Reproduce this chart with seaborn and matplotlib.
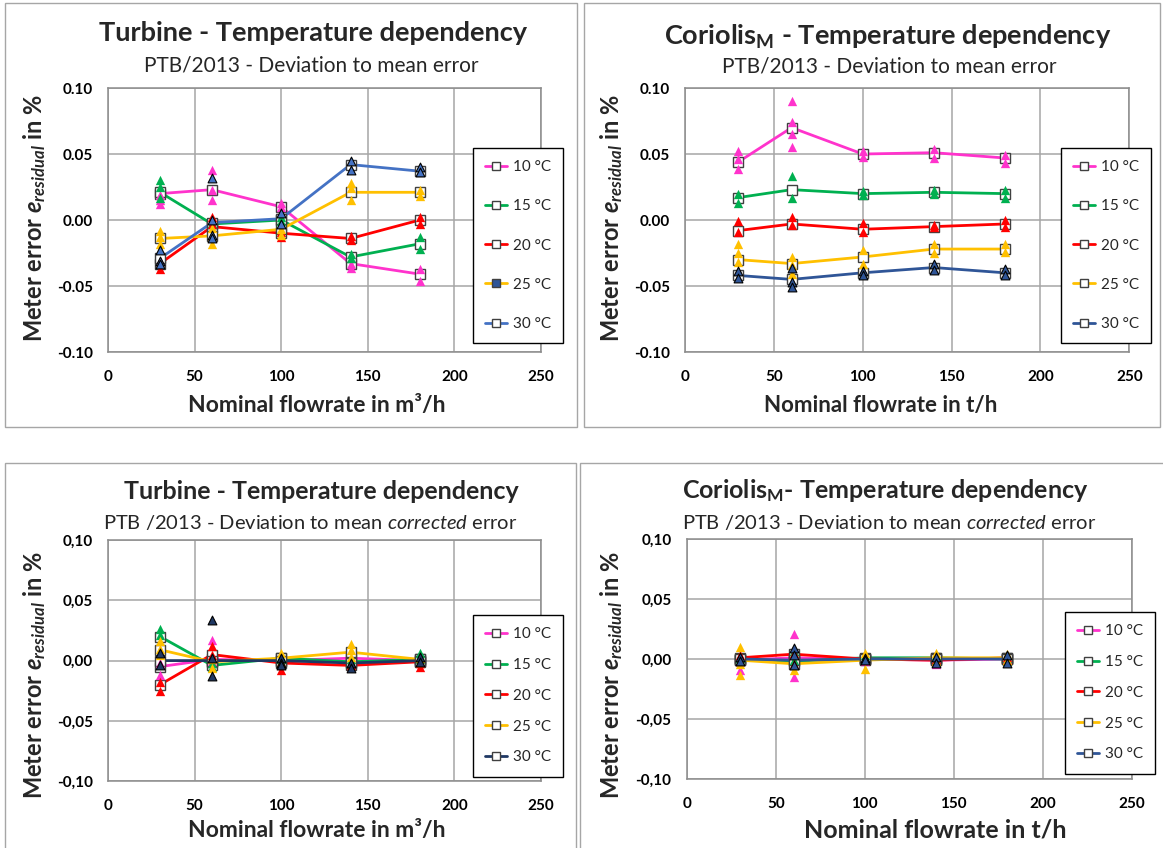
import numpy as np
import pandas as pd
import matplotlib
matplotlib.use('Agg')
import matplotlib.pyplot as plt
import seaborn as sns
from matplotlib.lines import Line2D
from matplotlib.patches import Rectangle
from matplotlib.ticker import FuncFormatter

# nominal flowrates and temperature groups
flow = [30, 60, 100, 140, 180]
temps = ['10 °C', '15 °C', '20 °C', '25 °C', '30 °C']

# Turbine - deviation to mean error (rows = temps, cols = flow)
turb_mean = [
    [0.020, 0.023, 0.010, -0.033, -0.041],
    [0.021, -0.003, 0.000, -0.028, -0.018],
    [-0.033, -0.005, -0.010, -0.014, 0.000],
    [-0.014, -0.012, -0.007, 0.021, 0.021],
    [-0.029, -0.002, 0.001, 0.042, 0.037],
]
turb_pts = [
    [[0.019, 0.015, 0.012], [0.038, 0.023, 0.015], [0.013, 0.010], [-0.033, -0.036], [-0.037, -0.046]],
    [[0.030, 0.025, 0.017], [-0.002, -0.003], [0.002, -0.001], [-0.026, -0.029], [-0.013, -0.022]],
    [[-0.031, -0.037], [0.002, -0.003], [-0.009, -0.013], [-0.012, -0.015], [0.002, -0.003]],
    [[-0.008, -0.013, -0.018], [-0.006, -0.013, -0.018], [-0.007, -0.011], [0.028, 0.024, 0.015], [0.023, 0.018]],
    [[-0.023, -0.031, -0.033], [0.032, 0.000, -0.011, -0.014], [0.005, -0.003], [0.045, 0.038], [0.040, 0.036]],
]

# Coriolis - deviation to mean error
cor_mean = [
    [0.044, 0.070, 0.050, 0.051, 0.047],
    [0.017, 0.023, 0.020, 0.021, 0.020],
    [-0.008, -0.003, -0.007, -0.005, -0.003],
    [-0.030, -0.033, -0.028, -0.022, -0.022],
    [-0.042, -0.045, -0.040, -0.036, -0.040],
]
cor_pts = [
    [[0.052, 0.046, 0.039], [0.090, 0.074, 0.065, 0.055], [0.052, 0.048], [0.054, 0.047], [0.049, 0.043]],
    [[0.020, 0.013], [0.033, 0.017], [0.022, 0.019], [0.023, 0.020], [0.023, 0.017]],
    [[-0.001, -0.009], [0.002, -0.004], [-0.002, -0.009], [-0.004, -0.005], [0.000, -0.005]],
    [[-0.018, -0.025, -0.032], [-0.028, -0.034, -0.041], [-0.023, -0.033], [-0.018, -0.025], [-0.018, -0.024]],
    [[-0.039, -0.044], [-0.036, -0.047, -0.051], [-0.039, -0.042], [-0.033, -0.038], [-0.037, -0.042]],
]

# Turbine - deviation to mean corrected error
turb_corr_mean = [
    [-0.005, 0.001, 0.000, 0.002, 0.000],
    [0.020, -0.004, 0.002, -0.001, 0.001],
    [-0.020, 0.005, -0.002, -0.004, -0.001],
    [0.009, -0.001, 0.002, 0.007, 0.001],
    [0.000, 0.000, 0.000, -0.002, 0.000],
]
turb_corr_pts = [
    [[-0.012, -0.002], [0.017, 0.000], [0.001, -0.001], [0.001, -0.002], [0.001, -0.001]],
    [[0.026, 0.021], [-0.002, -0.005], [0.003, 0.001], [0.001, -0.002], [0.006, 0.001]],
    [[-0.025, -0.018], [0.012, 0.005], [-0.004, -0.008], [-0.002, -0.004], [-0.002, -0.005]],
    [[0.016, 0.010, 0.005], [0.001, -0.006], [0.006, -0.001], [0.014, 0.009, 0.003], [0.002, -0.001]],
    [[0.006, -0.004], [0.034, 0.002, -0.013], [0.002, -0.002, -0.004], [-0.002, -0.006], [0.003, -0.001]],
]

# Coriolis - deviation to mean corrected error
cor_corr_mean = [
    [-0.001, 0.001, 0.000, -0.001, 0.000],
    [0.000, -0.002, 0.001, 0.001, 0.000],
    [0.001, 0.004, 0.000, -0.001, 0.001],
    [-0.001, -0.004, -0.001, 0.001, 0.001],
    [0.000, -0.001, 0.000, 0.000, 0.000],
]
cor_corr_pts = [
    [[-0.009, -0.002], [0.021, -0.015], [0.000, -0.002], [-0.004, 0.000], [-0.002, 0.000]],
    [[0.001, -0.001], [0.007, -0.001], [0.003, 0.000], [0.003, -0.001], [0.001, -0.002]],
    [[0.003, -0.002], [0.005, -0.004], [0.001, -0.001], [0.000, -0.002], [0.002, -0.001]],
    [[0.010, -0.013, -0.004], [-0.009, -0.005], [0.005, -0.008], [0.005, -0.002], [0.004, -0.001]],
    [[0.002, -0.002], [0.009, 0.003, -0.005], [0.001, -0.001], [0.002, -0.003], [0.003, -0.003]],
]

base_colors = ['#FF33CC', '#00B050', '#FF0000', '#FFC000']

sns.set_theme(style='white')
plt.rcParams['font.family'] = ['Lato', 'DejaVu Sans']
plt.rcParams['mathtext.fontset'] = 'custom'
plt.rcParams['mathtext.rm'] = 'Lato'
plt.rcParams['mathtext.it'] = 'Lato:italic'
plt.rcParams['mathtext.bf'] = 'Lato:bold'
if 'mathtext.bfit' in plt.rcParams:
    plt.rcParams['mathtext.bfit'] = 'Lato:italic:bold'
    ylab = r'Meter error $\mathbfit{e}_{\mathbfit{residual}}$ in %'
else:
    ylab = r'Meter error $\mathbf{e}_{\mathbf{residual}}$ in %'


def to_frames(means, pts):
    rm, rp = [], []
    for t, m_row, p_row in zip(temps, means, pts):
        for f, m, vals in zip(flow, m_row, p_row):
            rm.append((t, f, m))
            for v in vals:
                rp.append((t, f, v))
    return (pd.DataFrame(rm, columns=['temp', 'flow', 'err']),
            pd.DataFrame(rp, columns=['temp', 'flow', 'err']))


def draw_panel(ax, means, pts, c30, comma, legend_xy, spacing, filled25=False):
    colors = base_colors + [c30]
    dm, dp = to_frames(means, pts)
    for t, c in zip(temps, colors):
        sns.lineplot(data=dm[dm.temp == t], x='flow', y='err', color=c, lw=2,
                     marker='s', markersize=7, markerfacecolor='white',
                     markeredgecolor='#404040', markeredgewidth=1,
                     ax=ax, legend=False, zorder=2)
    for t, c in zip(temps, colors):
        if t == '30 °C':
            sns.scatterplot(data=dp[dp.temp == t], x='flow', y='err', marker='^',
                            color=c, edgecolor='black', linewidth=0.8, s=40,
                            ax=ax, legend=False, zorder=3)
        else:
            sns.scatterplot(data=dp[dp.temp == t], x='flow', y='err', marker='^',
                            color=c, linewidth=0, s=45, ax=ax, legend=False, zorder=3)
    ax.set_xlim(0, 250)
    ax.set_ylim(-0.1, 0.1)
    ax.set_xticks([0, 50, 100, 150, 200, 250])
    ax.set_yticks([-0.10, -0.05, 0.0, 0.05, 0.10])
    if comma:
        ax.yaxis.set_major_formatter(FuncFormatter(lambda v, p: f'{v:.2f}'.replace('.', ',').replace('-0,00', '0,00')))
    else:
        ax.yaxis.set_major_formatter(FuncFormatter(lambda v, p: f'{v:.2f}'.replace('-0.00', '0.00')))
    ax.set_xlabel('')
    ax.set_ylabel('')
    ax.grid(True, color='#A6A6A6', lw=1.1)
    ax.set_axisbelow(True)
    for s in ax.spines.values():
        s.set_color('#8C8C8C')
        s.set_linewidth(1.1)
    ax.tick_params(direction='out', length=5, width=1, color='#8C8C8C',
                   labelsize=11, labelcolor='black')
    ax.tick_params(axis='x', pad=8)
    ax.tick_params(axis='y', pad=6)
    plt.setp(ax.get_xticklabels(), fontweight='bold')
    plt.setp(ax.get_yticklabels(), fontweight='bold')

    handles = []
    for t, c in zip(temps, colors):
        fc = '#2F5597' if (filled25 and t == '25 °C') else 'white'
        handles.append(Line2D([], [], color=c, lw=2, marker='s', markersize=6,
                              markerfacecolor=fc, markeredgecolor='#404040',
                              markeredgewidth=1))
    leg = ax.legend(handles, temps, loc='upper left', bbox_to_anchor=legend_xy,
                    bbox_transform=fig.transFigure, frameon=True, fancybox=False,
                    edgecolor='black', framealpha=1, fontsize=11,
                    labelspacing=spacing, handlelength=1.4, handletextpad=0.4,
                    borderpad=0.8, borderaxespad=0)
    leg.get_frame().set_linewidth(1)


fig = plt.figure(figsize=(11.63, 8.48), dpi=100)

# panel frames
frame_kw = dict(transform=fig.transFigure, fill=False, ec='#A6A6A6', lw=1)
fig.add_artist(Rectangle((0.004, 0.497), 0.492, 0.499, **frame_kw))
fig.add_artist(Rectangle((0.502, 0.497), 0.495, 0.499, **frame_kw))
fig.add_artist(Rectangle((0.004, -0.01), 0.491, 0.464, **frame_kw))
fig.add_artist(Rectangle((0.499, -0.01), 0.505, 0.464, **frame_kw))

ax1 = fig.add_axes([0.0929, 0.5849, 0.3723, 0.3113])
ax2 = fig.add_axes([0.5890, 0.5849, 0.3820, 0.3113])
ax3 = fig.add_axes([0.0929, 0.0790, 0.3723, 0.2840])
ax4 = fig.add_axes([0.5905, 0.0814, 0.3825, 0.2830])

draw_panel(ax1, turb_mean, turb_pts, '#4472C4', False, (0.4067, 0.8255), 1.65, filled25=True)
draw_panel(ax2, cor_mean, cor_pts, '#2F5597', False, (0.9123, 0.8255), 1.65)
draw_panel(ax3, turb_corr_mean, turb_corr_pts, '#1F3864', True, (0.4067, 0.2748), 1.1)
draw_panel(ax4, cor_corr_mean, cor_corr_pts, '#2F5597', True, (0.9157, 0.2783), 1.1)

# titles
fig.text(0.269, 0.961, 'Turbine - Temperature dependency', ha='center', va='center',
         fontsize=19.5, fontweight='bold')
fig.text(0.268, 0.923, 'PTB/2013 - Deviation to mean error', ha='center', va='center', fontsize=15)
fig.text(0.7636, 0.956, r'Coriolis$_{\mathbf{M}}$ - Temperature dependency', ha='center',
         va='center', fontsize=19.5, fontweight='bold')
fig.text(0.765, 0.921, 'PTB/2013 - Deviation to mean error', ha='center', va='center', fontsize=15)
fig.text(0.276, 0.420, 'Turbine - Temperature dependency', ha='center', va='center',
         fontsize=18, fontweight='bold')
fig.text(0.2666, 0.3844, r'PTB /2013 - Deviation to mean $\mathit{corrected}$ error',
         ha='center', va='center', fontsize=14.5)
fig.text(0.761, 0.421, r'Coriolis$_{\mathbf{M}}$- Temperature dependency', ha='center',
         va='center', fontsize=18, fontweight='bold')
fig.text(0.765, 0.3844, r'PTB /2013 - Deviation to mean $\mathit{corrected}$ error',
         ha='center', va='center', fontsize=14.5)

# axis labels
for x in (0.030, 0.526):
    for y in (0.743, 0.204):
        fig.text(x, y, ylab, rotation=90, ha='center', va='center', fontsize=17,
                 fontweight='bold')
fig.text(0.272, 0.522, 'Nominal flowrate in m³/h', ha='center', va='center', fontsize=16.5, fontweight='bold')
fig.text(0.757, 0.522, 'Nominal flowrate in t/h', ha='center', va='center', fontsize=16, fontweight='bold')
fig.text(0.272, 0.021, 'Nominal flowrate in m³/h', ha='center', va='center', fontsize=16.5, fontweight='bold')
fig.text(0.804, 0.021, 'Nominal flowrate in t/h', ha='center', va='center', fontsize=18, fontweight='bold')

fig.savefig('out.png', dpi=100)
